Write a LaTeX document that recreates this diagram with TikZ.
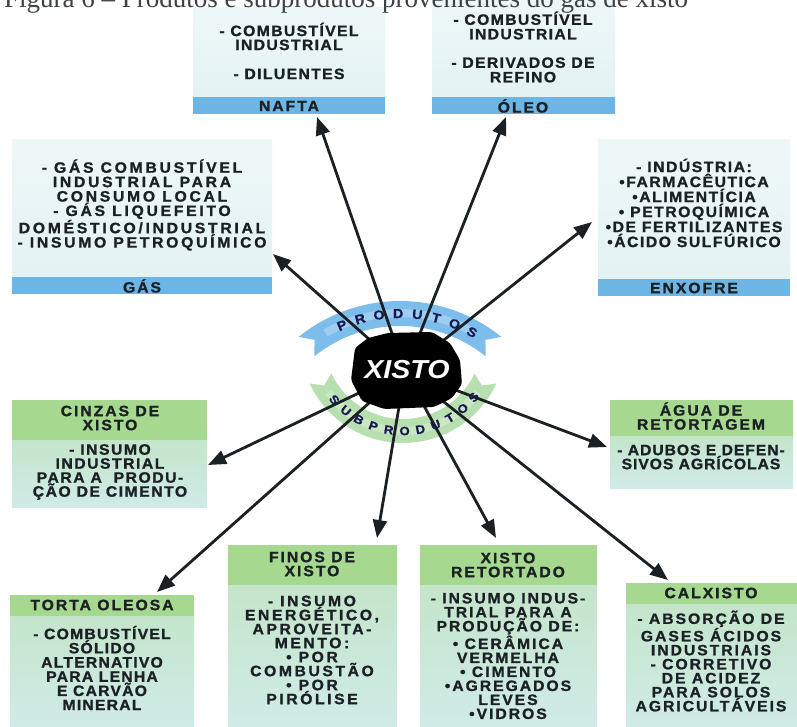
\documentclass[tikz,border=0pt]{standalone}
\usepackage{fontspec}
\setmainfont{Liberation Serif}
\newfontfamily\bx[FakeStretch=1.05,FakeBold=1.2,LetterSpace=13]{Liberation Sans}
\newfontfamily\rf[FakeStretch=1.1,FakeBold=1]{Liberation Sans}
\newfontfamily\xf[FakeStretch=1.1]{Liberation Sans}
\usetikzlibrary{arrows.meta}
\definecolor{barblue}{HTML}{6DB5E5}
\definecolor{topbody}{HTML}{E3F2F4}
\definecolor{hdrgreen}{HTML}{A6D98F}
\definecolor{bodyg1}{HTML}{C4E5CB}
\definecolor{bodyg2}{HTML}{D0EBE7}
\definecolor{ribblue}{HTML}{7DBDEB}
\definecolor{ribgreen}{HTML}{B7DFB0}
\definecolor{ink}{HTML}{1B2024}
\tikzset{
  txt/.style={font=\bx\bfseries\fontsize{15}{14}\selectfont, text=ink, align=center, inner sep=0pt},
  topbox/.style={top color=white!40!topbody, bottom color=topbody},
  bar/.style={fill=barblue},
  hdr/.style={fill=hdrgreen},
  gbody/.style={top color=bodyg1, bottom color=bodyg2},
  arr/.style={line width=2.8pt, draw=ink, -{Triangle[length=18pt,width=14pt]}},
  ribletter/.style={font=\rf\bfseries\fontsize{13}{13}\selectfont, text=ink!80!blue, inner sep=0pt},
}
\newcommand{\ls}[1]{\addfontfeature{LetterSpace=#1}}
\begin{document}
\begin{tikzpicture}[x=1pt,y=-1pt]
\useasboundingbox (0,0) rectangle (797,727);
\clip (0,0) rectangle (797,727);
\fill[white] (0,0) rectangle (797,727);

% ---------- top boxes ----------
\fill[topbox] (193,8) rectangle (385,97);
\fill[bar] (193,97) rectangle (385,114);
\node[txt, font=\bx\bfseries\fontsize{15}{14}\selectfont\ls{9}] (naftatxt) at (289,51) {- COMBUSTÍVEL\\INDUSTRIAL\\[15pt]- DILUENTES};
\node[txt] (nafta) at (289,106) {NAFTA};

\fill[topbox] (432,0) rectangle (615,97);
\fill[bar] (432,97) rectangle (615,114);
\node[txt, font=\bx\bfseries\fontsize{15}{14.5}\selectfont\ls{9}] (oleotxt) at (523,47) {- COMBUSTÍVEL\\INDUSTRIAL\\[14pt]- DERIVADOS DE\\REFINO};
\node[txt] (oleo) at (523,106) {ÓLEO};

\fill[topbox] (12,140) rectangle (272,277);
\fill[bar] (12,277) rectangle (272,294);
\node[txt, font=\bx\bfseries\fontsize{15}{14.4}\selectfont\ls{18}] (gastxt) at (142,205) {- GÁS COMBUSTÍVEL\\INDUSTRIAL PARA\\CONSUMO LOCAL\\- GÁS LIQUEFEITO\\DOMÉSTICO/INDUSTRIAL\\- INSUMO PETROQUÍMICO};
\node[txt] (gas) at (142,286) {GÁS};

\fill[topbox] (598,140) rectangle (790,279);
\fill[bar] (598,279) rectangle (790,296);
\node[txt, font=\bx\bfseries\fontsize{15}{15}\selectfont\ls{10}] (enxtxt) at (694,203) {- INDÚSTRIA:\\•FARMACÊUTICA\\•ALIMENTÍCIA\\• PETROQUÍMICA\\•DE FERTILIZANTES\\•ÁCIDO SULFÚRICO};
\node[txt] (enxofre) at (694,288) {ENXOFRE};

% ---------- bottom boxes ----------
\fill[hdr] (12,400) rectangle (207,440);
\fill[gbody] (12,440) rectangle (207,507);
\node[txt] (cinzashdr) at (110,418) {CINZAS DE\\XISTO};
\node[txt, font=\bx\bfseries\fontsize{15}{14}\selectfont\ls{10}] (cinzas) at (110,472) {- INSUMO\\INDUSTRIAL\\PARA A~~PRODU-\\ÇÃO DE CIMENTO};

\fill[hdr] (610,400) rectangle (793,436);
\fill[gbody] (610,436) rectangle (793,488);
\node[txt] (aguahdr) at (701,416) {ÁGUA DE\\RETORTAGEM};
\node[txt, font=\bx\bfseries\fontsize{15}{14}\selectfont\ls{6}] (agua) at (701,457) {- ADUBOS E DEFEN-\\SIVOS AGRÍCOLAS};

\fill[hdr] (10,595) rectangle (194,616);
\fill[gbody] (10,616) rectangle (194,727);
\node[txt] (tortahdr) at (102,605) {TORTA OLEOSA};
\node[txt, font=\bx\bfseries\fontsize{15}{14.2}\selectfont\ls{8}] (torta) at (102,668) {- COMBUSTÍVEL\\SÓLIDO\\ALTERNATIVO\\PARA LENHA\\E CARVÃO\\MINERAL};

\fill[hdr] (228,545) rectangle (397,585);
\fill[gbody] (228,585) rectangle (397,727);
\node[txt] (finoshdr) at (312,564) {FINOS DE\\XISTO};
\node[txt, font=\bx\bfseries\fontsize{15}{14}\selectfont\ls{17}] (finos) at (312,650) {- INSUMO\\ENERGÉTICO,\\APROVEITA-\\MENTO:\\• POR\\COMBUSTÃO\\• POR\\PIRÓLISE};

\fill[hdr] (420,545) rectangle (597,585);
\fill[gbody] (420,585) rectangle (597,727);
\node[txt] (rethdr) at (508,565) {XISTO\\RETORTADO};
\node[txt, font=\bx\bfseries\fontsize{15}{14}\selectfont\ls{13}] (ret) at (508,656) {- INSUMO INDUS-\\TRIAL PARA A\\PRODUÇÃO DE:\\• CERÂMICA\\VERMELHA\\• CIMENTO\\•AGREGADOS\\LEVES\\•VIDROS};

\fill[hdr] (626,583) rectangle (797,604);
\fill[gbody] (626,604) rectangle (797,727);
\node[txt] (calhdr) at (711,593) {CALXISTO};
\node[txt] (cal) at (711,661) {- ABSORÇÃO DE\\GASES ÁCIDOS\\INDUSTRIAIS\\- CORRETIVO\\DE ACIDEZ\\PARA SOLOS\\AGRICULTÁVEIS};

% caption (cut off at the top of the page)
\node[font=\fontsize{27}{27}\selectfont, anchor=base west, text=ink!85, inner sep=0pt] (caption) at (4,8) {Figura 6 – Produtos e subprodutos provenientes do gás de xisto};

% ---------- ribbons ----------
\begin{scope}[shift={(400,462)}, yscale=-1]
  \fill[ribblue] plot[domain=129:51, samples=60] (\x:161) -- (55:149) -- (51:136)
     -- plot[domain=51:129, samples=60] (\x:136) -- (125:149) -- cycle;
  \fill[white, opacity=0.25] plot[domain=120:60, samples=40] (\x:153) -- plot[domain=60:120, samples=40] (\x:145) -- cycle;
\end{scope}
\begin{scope}[shift={(403,340)}, yscale=-1]
  \fill[ribgreen] plot[domain=205:335, samples=60] (\x:103) -- (330:91) -- (335:79)
     -- plot[domain=335:205, samples=60] (\x:79) -- (210:91) -- cycle;
  \fill[white, opacity=0.25] plot[domain=215:325, samples=40] (\x:95) -- plot[domain=325:215, samples=40] (\x:87) -- cycle;
\end{scope}

% ---------- arrows ----------
\coordinate (xc) at (405,371);
\coordinate (tNafta) at (317,117);
\coordinate (tOleo) at (506,117);
\coordinate (tGas) at (273,254);
\coordinate (tEnx) at (592,222);
\coordinate (tCinzas) at (208,465);
\coordinate (tAgua) at (607,447);
\coordinate (tTorta) at (157,592);
\coordinate (tFinos) at (377,538);
\coordinate (tRet) at (496,538);
\coordinate (tCal) at (668,580);
\foreach \t in {tNafta,tOleo,tGas,tEnx,tCinzas,tAgua,tTorta,tFinos,tRet,tCal}
  \draw[arr] (xc) -- (\t);

% ribbon letters
\begin{scope}[shift={(400,462)}, yscale=-1]
  \foreach \l [count=\i from 0] in {P,R,O,D,U,T,O,S} {
    \pgfmathsetmacro\a{113-\i*52/7}
    \node[ribletter, rotate=\a-90] (rp\i) at (\a:148.5) {\l};
  }
\end{scope}
\begin{scope}[shift={(403,340)}, yscale=-1]
  \foreach \l [count=\i from 0] in {S,U,B,P,R,O,D,U,T,O,S} {
    \pgfmathsetmacro\a{221+\i*10}
    \node[ribletter, font=\rf\bfseries\fontsize{12}{12}\selectfont, rotate=\a+90] (rs\i) at (\a:91) {\l};
  }
\end{scope}

% ---------- central blob ----------
\fill[black, rounded corners=3pt] (355,348) -- (368,338) -- (388,333) -- (432,332) -- (450,343) -- (460,360) -- (462,384) -- (452,398) -- (434,407) -- (384,409) -- (362,401) -- (351,380) -- cycle;
\node[font=\xf\bfseries\itshape\fontsize{26}{26}\selectfont, text=white, inner sep=0pt] (xisto) at (407,370) {XISTO};
\end{tikzpicture}
\end{document}
